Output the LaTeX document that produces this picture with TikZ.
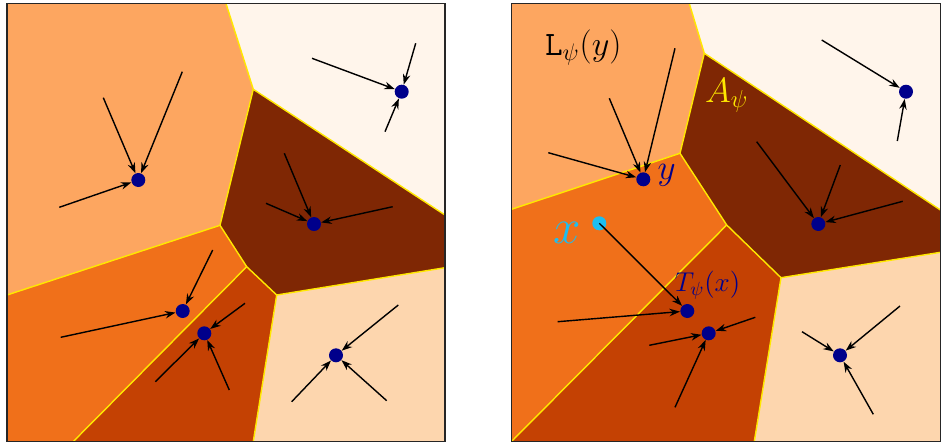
\RequirePackage{fix-cm}
\documentclass[tikz,border=0pt]{standalone}
\usetikzlibrary{arrows.meta}
\definecolor{orLight}{RGB}{253,166,96}
\definecolor{orCream}{RGB}{255,245,235}
\definecolor{orPeach}{RGB}{253,214,174}
\definecolor{orMid}{RGB}{240,112,26}
\definecolor{orBurnt}{RGB}{196,65,3}
\definecolor{orDark}{RGB}{127,39,4}
\definecolor{ptNavy}{RGB}{0,0,139}
\definecolor{ptCyan}{RGB}{28,190,240}
\definecolor{edgeYellow}{RGB}{255,232,0}
\tikzset{
  edge/.style={draw=edgeYellow,line width=.8pt},
  frame/.style={draw=black!85,line width=1pt},
  site/.style={circle,fill=ptNavy,inner sep=0pt,minimum size=2.8mm},
  query/.style={site,fill=ptCyan},
  flow/.style={-{Stealth[length=2.1mm,width=1.5mm]},line width=.8pt,draw=black},
  lbl/.style={inner sep=1pt},
}

\begin{document}
\begin{tikzpicture}[x=0.02cm,y=-0.02cm]
  \useasboundingbox (0,0) rectangle (941,444);
  % left panel
  \coordinate (lTL) at (7,3.5);
  \coordinate (lTR) at (445,3.5);
  \coordinate (lBR) at (445,441.5);
  \coordinate (lBL) at (7,441.5);
  \coordinate (la) at (226,3.5);
  \coordinate (lv1) at (253.3,89.3);
  \coordinate (lr1) at (445,215);
  \coordinate (lv2) at (220,225.3);
  \coordinate (ll1) at (7,295);
  \coordinate (lv3) at (246.7,266.7);
  \coordinate (lv4) at (276.7,295);
  \coordinate (lr2) at (445,267.7);
  \coordinate (lb1) at (253.3,441.5);
  \coordinate (lb2) at (73.3,441.5);
  \fill[orLight] (lTL) -- (la) -- (lv1) -- (lv2) -- (ll1) -- cycle;
  \fill[orCream] (la) -- (lTR) -- (lr1) -- (lv1) -- cycle;
  \fill[orDark] (lv1) -- (lr1) -- (lr2) -- (lv4) -- (lv3) -- (lv2) -- cycle;
  \fill[orMid] (ll1) -- (lv2) -- (lv3) -- (lb2) -- (lBL) -- cycle;
  \fill[orBurnt] (lv3) -- (lv4) -- (lb1) -- (lb2) -- cycle;
  \fill[orPeach] (lv4) -- (lr2) -- (lBR) -- (lb1) -- cycle;
  \draw[edge] (la) -- (lv1) -- (lr1);
  \draw[edge] (lv1) -- (lv2) -- (ll1);
  \draw[edge] (lv2) -- (lv3) -- (lv4) -- (lr2);
  \draw[edge] (lv4) -- (lb1);
  \draw[edge] (lv3) -- (lb2);
  \draw[frame] (lTL) rectangle (lBR);
  \node[site] (s1) at (138.3,180) {};
  \node[site] (s2) at (401.7,91.7) {};
  \node[site] (s3) at (314,224) {};
  \node[site] (s4) at (182.7,311) {};
  \node[site] (s5) at (204.3,333.3) {};
  \node[site] (s6) at (336,355.3) {};
  \draw[flow] (103.3,97.7) coordinate (a11) -- (s1);
  \draw[flow] (182.3,71.7) coordinate (a12) -- (s1);
  \draw[flow] (59.3,207.3) coordinate (a13) -- (s1);
  \draw[flow] (312,58.3) coordinate (a21) -- (s2);
  \draw[flow] (415.7,43.3) coordinate (a22) -- (s2);
  \draw[flow] (385,131.7) coordinate (a23) -- (s2);
  \draw[flow] (284.3,153.3) coordinate (a31) -- (s3);
  \draw[flow] (266,203.3) coordinate (a32) -- (s3);
  \draw[flow] (392.7,206.7) coordinate (a33) -- (s3);
  \draw[flow] (212.7,250) coordinate (a41) -- (s4);
  \draw[flow] (60.7,337.3) coordinate (a42) -- (s4);
  \draw[flow] (245,303.3) coordinate (a51) -- (s5);
  \draw[flow] (155.3,381.7) coordinate (a52) -- (s5);
  \draw[flow] (229.3,390) coordinate (a53) -- (s5);
  \draw[flow] (398.3,305) coordinate (a61) -- (s6);
  \draw[flow] (291.7,401.7) coordinate (a62) -- (s6);
  \draw[flow] (386.7,400.7) coordinate (a63) -- (s6);
  % right panel
  \coordinate (rTL) at (511.5,3.5);
  \coordinate (rTR) at (940.5,3.5);
  \coordinate (rBR) at (940.5,441.5);
  \coordinate (rBL) at (511.5,441.5);
  \coordinate (ra) at (689.3,3.5);
  \coordinate (rv1) at (704.3,53.3);
  \coordinate (rr1) at (940.5,210);
  \coordinate (rv2) at (680,153.3);
  \coordinate (rl1) at (511.5,209.3);
  \coordinate (rv3) at (726.7,225);
  \coordinate (rv4) at (781,277.7);
  \coordinate (rr2) at (940.5,252.3);
  \coordinate (rb1) at (754.3,441.5);
  \fill[orLight] (rTL) -- (ra) -- (rv1) -- (rv2) -- (rl1) -- cycle;
  \fill[orCream] (ra) -- (rTR) -- (rr1) -- (rv1) -- cycle;
  \fill[orDark] (rv1) -- (rr1) -- (rr2) -- (rv4) -- (rv3) -- (rv2) -- cycle;
  \fill[orMid] (rl1) -- (rv2) -- (rv3) -- (rBL) -- cycle;
  \fill[orBurnt] (rv3) -- (rv4) -- (rb1) -- (rBL) -- cycle;
  \fill[orPeach] (rv4) -- (rr2) -- (rBR) -- (rb1) -- cycle;
  \draw[edge] (ra) -- (rv1) -- (rr1);
  \draw[edge] (rv1) -- (rv2) -- (rl1);
  \draw[edge] (rv2) -- (rv3) -- (rv4) -- (rr2);
  \draw[edge] (rv4) -- (rb1);
  \draw[edge] (rv3) -- (rBL);
  \draw[frame] (rTL) rectangle (rBR);
  \node[site] (yPt) at (643.3,179.3) {};
  \node[query] (xPt) at (599.3,223.3) {};
  \node[site] (tPt) at (687.3,311) {};
  \node[site] (q5) at (708.7,333.3) {};
  \node[site] (q3) at (818.3,224) {};
  \node[site] (q2) at (906,91.7) {};
  \node[site] (q6) at (840,355.3) {};
  \draw[flow] (609.3,98.3) coordinate (b11) -- (yPt);
  \draw[flow] (675,48.3) coordinate (b12) -- (yPt);
  \draw[flow] (548.3,152.7) coordinate (b13) -- (yPt);
  \draw[flow] (xPt.center) -- (tPt);
  \draw[flow] (557.7,321.7) coordinate (b41) -- (tPt);
  \draw[flow] (755.3,317.3) coordinate (b51) -- (q5);
  \draw[flow] (649.3,345.3) coordinate (b52) -- (q5);
  \draw[flow] (675,407.3) coordinate (b53) -- (q5);
  \draw[flow] (756.7,141.7) coordinate (b31) -- (q3);
  \draw[flow] (840.3,165) coordinate (b32) -- (q3);
  \draw[flow] (902.7,201.3) coordinate (b33) -- (q3);
  \draw[flow] (821.7,40) coordinate (b21) -- (q2);
  \draw[flow] (897.3,141) coordinate (b22) -- (q2);
  \draw[flow] (900,306) coordinate (b61) -- (q6);
  \draw[flow] (802,331.7) coordinate (b62) -- (q6);
  \draw[flow] (873.3,414.3) coordinate (b63) -- (q6);
  \node[lbl,font=\fontsize{19.5}{23}\selectfont] (lpsi) at (583.3,47.5) {$\mathtt{L}_\psi(y)$};
  \node[lbl,text=edgeYellow,font=\fontsize{20}{24}\selectfont] (apsi) at (726.7,95.5) {$A_\psi$};
  \node[lbl,text=ptNavy,font=\fontsize{20}{24}\selectfont] (ylbl) at (666.7,175.8) {$y$};
  \node[lbl,text=ptCyan,font=\fontsize{28}{32}\selectfont] (xlbl) at (567.5,232.5) {$x$};
  \node[lbl,text=ptNavy,font=\fontsize{15.5}{18}\selectfont] (tpsi) at (707.5,285) {$T_\psi(x)$};
\end{tikzpicture}
\end{document}
